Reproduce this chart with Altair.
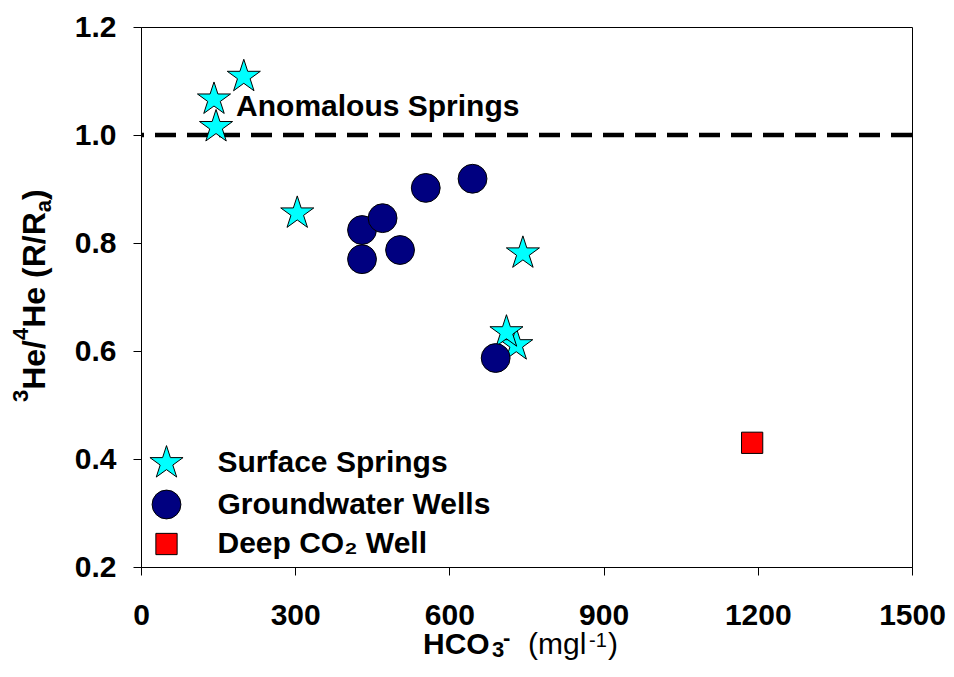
import altair as alt
import pandas as pd

FONT = "Liberation Sans"

# ---- data ----
SERIES = ["Surface Springs", "Groundwater Wells", "Deep CO₂ Well"]
SPRING_X = [200, 142, 146, 304, 743, 730, 711]
SPRING_Y = [1.108, 1.066, 1.015, 0.855, 0.781, 0.611, 0.635]
WELL_X = [430, 470, 430, 504, 554, 645, 690]
WELL_Y = [0.824, 0.846, 0.770, 0.787, 0.902, 0.919, 0.587]
DEEP_X = [1189]
DEEP_Y = [0.430]
X_TICKS = [0, 300, 600, 900, 1200, 1500]
Y_TICKS = [0.2, 0.4, 0.6, 0.8, 1.0, 1.2]
REF_LINE = [1.0]
ANNOT_TEXT = ["Anomalous Springs"]
ANNOT_X = [185]
ANNOT_Y = [1.035]

STAR = ("M0,-1L0.2245,-0.309L0.951,-0.309L0.363,0.118L0.588,0.809L0,0.382"
        "L-0.588,0.809L-0.363,0.118L-0.951,-0.309L-0.2245,-0.309Z")

rows = []
for x, y in zip(SPRING_X, SPRING_Y):
    rows.append({"x": x, "y": y, "series": SERIES[0]})
for x, y in zip(WELL_X, WELL_Y):
    rows.append({"x": x, "y": y, "series": SERIES[1]})
for x, y in zip(DEEP_X, DEEP_Y):
    rows.append({"x": x, "y": y, "series": SERIES[2]})
df = pd.DataFrame(rows)

xscale = alt.Scale(domain=[0, 1500], nice=False, zero=False)
yscale = alt.Scale(domain=[0.2, 1.2], nice=False, zero=False)

x_axis = alt.Axis(values=X_TICKS, title=None, format="d", labelPadding=25, labelFlush=False,
                  labelOverlap=False, grid=False)
y_axis = alt.Axis(values=Y_TICKS, title=None, format=".1f", labelPadding=17,
                  labelFlush=False, labelOverlap=False, grid=False)

rule = alt.Chart(pd.DataFrame({"y": REF_LINE})).mark_rule(
    color="black", strokeWidth=4.5, strokeDash=[21, 11]
).encode(y=alt.Y("y:Q", scale=yscale, axis=y_axis))

points = alt.Chart(df).mark_point(
    filled=True, opacity=1, stroke="black", strokeWidth=1
).encode(
    x=alt.X("x:Q", scale=xscale, axis=x_axis),
    y=alt.Y("y:Q", scale=yscale, axis=y_axis),
    color=alt.Color("series:N", scale=alt.Scale(domain=SERIES, range=["#00FFFF", "#000080", "#FF0000"]),
                    legend=alt.Legend(orient="none", legendX=7.5, legendY=418, title=None,
                                      labelFontSize=30, labelFont=FONT, labelFontWeight="bold",
                                      labelColor="black", labelLimit=0, labelOffset=33,
                                      rowPadding=7.5, padding=0, symbolStrokeColor="black",
                                      symbolStrokeWidth=1, symbolOpacity=1)),
    shape=alt.Shape("series:N", scale=alt.Scale(domain=SERIES, range=[STAR, "circle", "square"])),
    size=alt.Size("series:N", scale=alt.Scale(domain=SERIES, range=[1211, 452, 484])),
)

annot = alt.Chart(pd.DataFrame({"t": ANNOT_TEXT, "x": ANNOT_X, "y": ANNOT_Y})).mark_text(
    font=FONT, fontSize=30, fontWeight="bold", align="left", baseline="alphabetic", color="black"
).encode(x=alt.X("x:Q", scale=xscale), y=alt.Y("y:Q", scale=yscale), text="t:N")


def txt(s, x, y, size, weight="bold", angle=0, align="left", baseline="alphabetic"):
    return alt.Chart(pd.DataFrame({"t": [s]})).mark_text(
        font=FONT, fontSize=size, fontWeight=weight, angle=angle, align=align,
        baseline=baseline, color="black"
    ).encode(x=alt.value(x), y=alt.value(y), text="t:N")


# y title pieces (rotated, reading upward)
YB = -96     # main baseline (rel x)
YSUP = -113  # superscript baseline
YSUB = -90   # subscript baseline
titles = [
    # x title
    txt("HCO", 282, 627, 30, "bold"),
    txt("3", 351, 630, 22, "bold"),
    txt("-", 362, 618, 22, "bold"),
    txt("(mgl", 387, 627, 30, "normal"),
    txt("-1", 448, 620, 20, "normal"),
    txt(")", 467, 627, 30, "normal"),
    # y title
    txt("3", YSUP, 375.0, 22, "bold", angle=270),
    txt("He", YB, 362.8, 32, "bold", angle=270),
    txt("/", YB, 321.9, 32, "bold", angle=270),
    txt("4", YSUP, 313.0, 22, "bold", angle=270),
    txt("He", YB, 300.8, 32, "bold", angle=270),
    txt("(R/R", YB, 251.0, 32, "bold", angle=270),
    txt("a", YSUB, 185.2, 22, "bold", angle=270),
    txt(")", YB, 173.0, 32, "bold", angle=270),
]

chart = alt.layer(rule, points, annot, *titles).properties(
    width=771, height=540,
    autosize=alt.AutoSizeParams(type="none"),
    padding={"left": 133, "top": 19, "right": 34, "bottom": 94},
).configure_view(stroke="black", strokeWidth=1).configure_axis(
    labelFont=FONT, labelFontSize=30, labelFontWeight="bold", labelColor="black",
    tickColor="black", tickSize=8, tickWidth=1, domainColor="black", domainWidth=1,
)

chart.save("out.html", embed_options={"renderer": "svg", "actions": False})
